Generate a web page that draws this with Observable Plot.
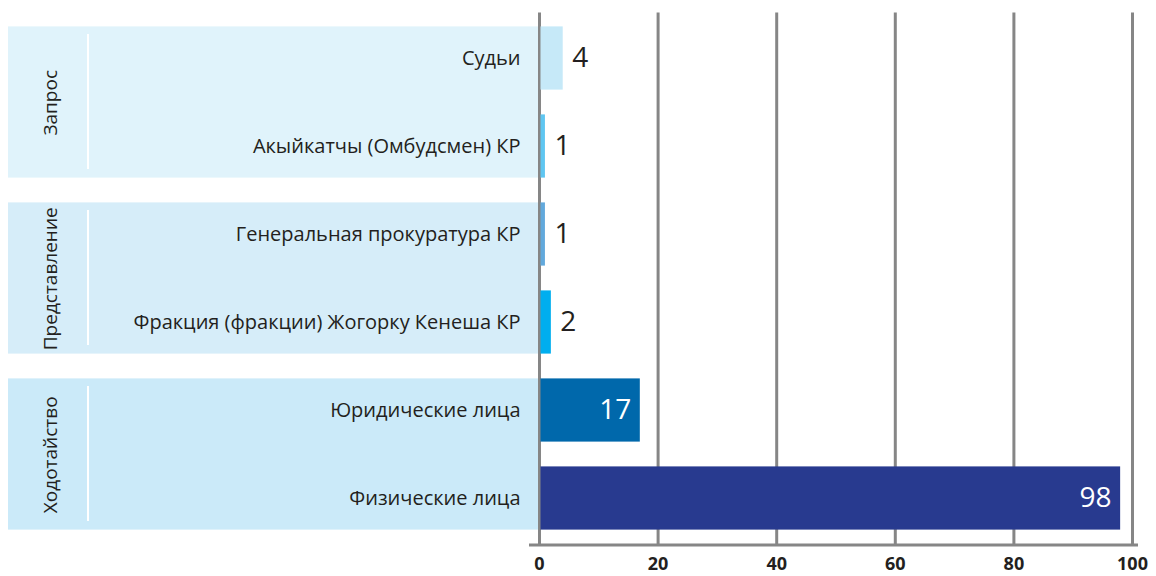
<!DOCTYPE html>
<html>
<head>
<meta charset="utf-8">
<script src="https://cdn.jsdelivr.net/npm/d3@7"></script>
<script src="https://cdn.jsdelivr.net/npm/@observablehq/plot@0.6"></script>
<style>
  body { margin: 0; background: #fff; }
  #chart svg { display: block; }
</style>
</head>
<body>
<div id="chart"></div>
<script>
const categories = [
  "Судьи",
  "Акыйкатчы (Омбудсмен) КР",
  "Генеральная прокуратура КР",
  "Фракция (фракции) Жогорку Кенеша КР",
  "Юридические лица",
  "Физические лица"
];
const values = [4, 1, 1, 2, 17, 98];
const groupOf = ["Запрос", "Запрос", "Представление", "Представление", "Ходотайство", "Ходотайство"];
const barColors = ["#c6e9f8", "#5fc6f1", "#62a9dc", "#00aeef", "#0068ab", "#283a8f"];
const groupNames = ["Запрос", "Представление", "Ходотайство"];
const groupColors = ["#e0f3fb", "#d6edf9", "#cbeaf9"];
const xTicks = [0, 20, 40, 60, 80, 100];

const rows = categories.map((name, i) => ({
  name,
  value: values[i],
  group: groupOf[i],
  color: barColors[i],
  bg: groupColors[groupNames.indexOf(groupOf[i])],
  first: i === 0 || groupOf[i - 1] !== groupOf[i]
}));
const firstRows = rows.filter(d => d.first);
const lastRows = rows.filter(d => !d.first);

const ink = "#231f20";
const gridColor = "#868686";

const chart = Plot.plot({
  width: 1156,
  height: 576,
  marginLeft: 539,
  marginRight: 24,
  marginTop: 12.6,
  marginBottom: 31.6,
  style: { fontFamily: "'Open Sans', sans-serif", background: "#fff" },
  x: { domain: [0, 100] },
  y: { type: "band", domain: categories, padding: 0, axis: null },
  color: { type: "identity" },
  marks: [
    // group background panels (left side)
    Plot.barX(firstRows, { y: "name", x1: 0, x2: 0, fill: "bg", insetLeft: -531, insetTop: 12.4 }),
    Plot.barX(lastRows, { y: "name", x1: 0, x2: 0, fill: "bg", insetLeft: -531, insetBottom: 12.4 }),
    // white separators
    Plot.barX(firstRows, { y: "name", x1: 0, x2: 0, fill: "white", insetLeft: -452, insetRight: 450, insetTop: 20 }),
    Plot.barX(lastRows, { y: "name", x1: 0, x2: 0, fill: "white", insetLeft: -452, insetRight: 450, insetBottom: 21 }),
    // grid lines
    Plot.ruleX(xTicks, { stroke: gridColor, strokeWidth: 3 }),
    // bars
    Plot.barX(rows, { x: "value", y: "name", fill: "color", insetTop: 12.4, insetBottom: 12.4, insetLeft: 1.5 }),
    // category labels
    Plot.text(rows, { x: 0, y: "name", text: "name", textAnchor: "end", dx: -19, fontSize: 20, fill: ink }),
    // group labels
    Plot.text(firstRows, { x: 0, y: "name", text: "group", rotate: -90, dx: -489, dy: 44.3, fontSize: 19, fill: ink }),
    // value labels
    Plot.text(rows.filter(d => d.value < 10), { x: "value", y: "name", text: d => String(d.value), textAnchor: "start", dx: 9, fontSize: 28, fill: ink }),
    Plot.text(rows.filter(d => d.value >= 10), { x: "value", y: "name", text: d => String(d.value), textAnchor: "end", dx: -9, fontSize: 28, fill: "white" }),
    // x axis
    Plot.axisX(xTicks, { anchor: "bottom", tickSize: 0, tickPadding: 12.5, fontSize: 18, fontWeight: "bold", fill: ink, label: null }),
    Plot.frame({ anchor: "bottom", stroke: gridColor, strokeWidth: 3, insetLeft: -9, insetRight: -4 })
  ]
});
document.getElementById("chart").append(chart);
</script>
</body>
</html>
